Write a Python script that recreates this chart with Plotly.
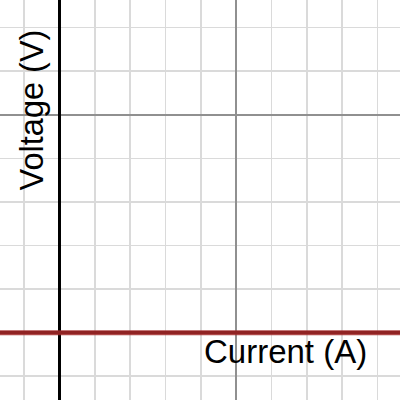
import plotly.graph_objects as go

# data: the measured line (voltage vs current)
current = [-2, 10]
voltage = [0, 0]

x_label = "Current (A)"
y_label = "Voltage (V)"

x_range = [-1.684, 9.635]
y_range = [-1.545, 7.63]

fig = go.Figure()
fig.add_trace(go.Scatter(
    x=current, y=voltage, mode="lines",
    line=dict(color="rgba(160,40,40,0.85)", width=5),
    hoverinfo="skip", showlegend=False,
))

axis_common = dict(
    showticklabels=False, ticks="",
    showgrid=True, gridcolor="#909090", gridwidth=2, dtick=5, tick0=0,
    minor=dict(dtick=1, tick0=0, showgrid=True, gridcolor="#dadada", gridwidth=1.5),
    showline=False,
)

fig.update_xaxes(range=x_range, zeroline=True, zerolinecolor="black", zerolinewidth=3, **axis_common)
fig.update_yaxes(range=y_range, zeroline=True, zerolinecolor="#3a0d0d", zerolinewidth=3, **axis_common)

fig.add_annotation(text=x_label, xref="paper", yref="paper", x=0.714, y=0.1225,
                   xanchor="center", yanchor="middle", showarrow=False,
                   font=dict(family="Liberation Sans, Arial", size=33, color="black"))
fig.add_annotation(text=y_label, xref="paper", yref="paper", x=0.081, y=0.725,
                   xanchor="center", yanchor="middle", showarrow=False, textangle=-90,
                   font=dict(family="Liberation Sans, Arial", size=32.5, color="black"))

fig.update_layout(
    width=400, height=400,
    margin=dict(l=0, r=0, t=0, b=0),
    paper_bgcolor="white", plot_bgcolor="white",
)

fig.write_html("out.html", config={"displayModeBar": False, "staticPlot": True},
               post_script="document.body.style.margin='0';document.body.style.overflow='hidden';")
